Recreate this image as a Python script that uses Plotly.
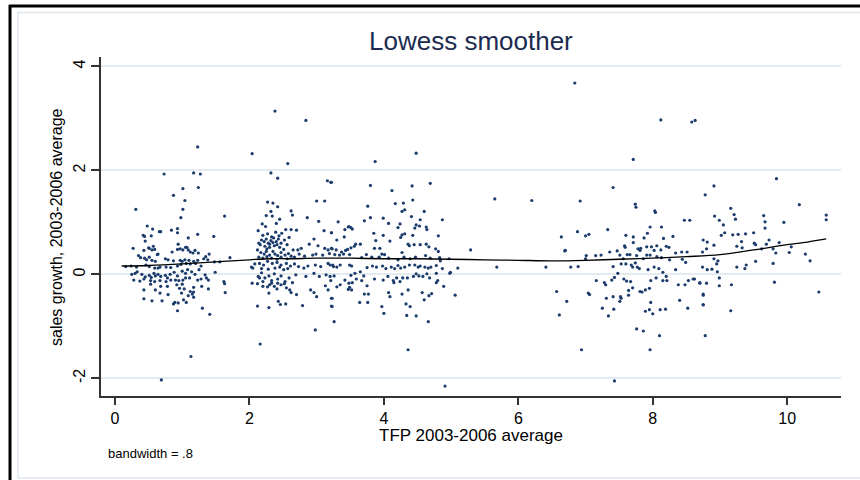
import plotly.graph_objects as go

# ---- data: (TFP 2003-2006 average, sales growth 2003-2006 average) ----
cluster_a = [
    (0.73,1.93),(1.17,1.95),(1.27,1.93),(1.23,2.45),(1.24,1.67),(1.01,1.65),(0.87,1.52),(1.04,1.42),(1.01,1.25),(0.31,1.25),(0.98,1.09),(1.63,1.12),
    (0.48,0.93),(0.56,0.87),(0.66,0.82),(0.68,0.82),(0.84,0.85),(0.93,0.88),(0.93,0.80),(0.42,0.75),(0.44,0.73),(0.54,0.74),(1.09,0.70),(1.23,0.77),(1.47,0.73),(0.45,0.64),(0.94,0.58),
    (0.51,0.50),(0.57,0.54),(0.55,0.47),(0.27,0.50),(0.93,0.48),(0.97,0.49),(1.05,0.52),(1.07,0.52),(1.19,0.46),(0.43,0.46),(0.50,0.51),(0.59,0.48),(0.63,0.38),(0.85,0.43),(1.01,0.47),(1.09,0.47),(1.12,0.43),(1.16,0.41),(1.24,0.41),(1.35,0.34),(1.40,0.39),
    (0.35,0.36),(0.38,0.32),(0.44,0.31),(0.47,0.28),(0.51,0.33),(0.55,0.27),(0.60,0.25),(0.64,0.39),(0.75,0.30),(0.79,0.28),(0.87,0.26),(0.97,0.27),(1.00,0.25),(1.04,0.28),(1.10,0.27),(1.17,0.25),(1.23,0.27),(1.32,0.30),(1.38,0.28),(1.48,0.24),(1.56,0.24),(1.71,0.32),
    (0.16,0.15),(0.24,0.16),(0.32,0.14),(0.46,0.18),(0.51,0.15),(0.59,0.12),(0.64,0.12),(0.67,0.14),(0.76,0.14),(0.83,0.13),(0.93,0.16),(0.98,0.19),(1.06,0.21),(1.12,0.20),(1.20,0.21),(1.28,0.16),
    (0.25,0.00),(0.30,0.02),(0.33,0.05),(0.40,0.00),(0.45,-0.05),(0.51,-0.02),(0.54,-0.06),(0.58,0.02),(0.60,-0.03),(0.64,0.00),(0.68,-0.04),(0.75,-0.02),(0.78,-0.07),(0.82,0.00),(0.88,0.04),(0.93,-0.03),(1.00,0.06),(1.05,0.02),(1.08,0.09),(1.14,0.05),(1.19,0.00),(1.25,0.09),(1.34,-0.01),(1.39,-0.11),(1.49,0.04),
    (0.28,-0.11),(0.37,-0.13),(0.43,-0.09),(0.53,-0.12),(0.59,-0.14),(0.67,-0.12),(0.76,-0.14),(0.83,-0.11),(0.90,-0.11),(0.95,-0.12),(1.01,-0.11),(1.05,-0.07),(1.11,-0.07),(1.23,-0.11),(1.28,-0.09),(1.36,-0.07),(1.62,-0.14),(1.63,-0.18),
    (0.43,-0.30),(0.53,-0.19),(0.60,-0.30),(0.68,-0.23),(0.78,-0.23),(0.92,-0.20),(0.96,-0.27),(1.00,-0.19),(1.03,-0.28),(1.12,-0.33),(1.17,-0.34),(1.09,-0.41),(1.17,-0.25),(1.29,-0.23),(1.39,-0.28),
    (0.67,-0.36),(0.79,-0.39),(0.99,-0.36),(1.15,-0.38),(1.17,-0.44),(1.02,-0.49),(1.06,-0.54),(0.43,-0.47),(0.55,-0.51),(0.70,-0.51),(0.89,-0.54),(0.87,-0.57),(0.94,-0.55),(1.64,-0.35),
    (0.93,-0.70),(1.30,-0.65),(1.41,-0.77),(0.69,-2.03),(1.13,-1.58),
]

cluster_b = [
    (2.04,2.32),(2.38,3.14),(2.84,2.96),(2.57,2.13),(2.32,1.95),(2.42,1.85),(3.16,1.80),(3.21,1.77),(2.27,1.39),(2.35,1.37),(2.42,1.30),(3.00,1.41),(3.12,1.41),
    (2.62,1.22),(2.64,1.14),(2.32,1.21),(2.25,1.13),(2.34,1.12),(2.45,1.06),(2.86,1.09),(3.03,1.02),(2.19,0.97),(2.24,0.92),(2.40,0.98),(2.13,0.84),(2.54,0.86),(2.62,0.86),(2.70,0.85),(2.39,0.81),(3.11,0.84),(3.22,0.80),
    (2.18,0.66),(2.22,0.63),(2.25,0.68),(2.28,0.60),(2.32,0.65),(2.36,0.70),(2.40,0.63),(2.43,0.68),(2.47,0.60),(2.52,0.66),(2.56,0.57),(2.59,0.71),(2.16,0.57),(2.23,0.54),(2.30,0.52),(2.37,0.55),(2.45,0.52),(2.51,0.48),
    (2.12,0.47),(2.65,0.47),(2.72,0.47),(2.77,0.50),(2.89,0.58),(2.96,0.68),(3.02,0.55),(3.12,0.50),(3.17,0.47),(3.22,0.50),
    (2.20,0.75),(2.27,0.78),(2.33,0.72),(2.44,0.74),(2.48,0.79),(2.30,0.58),(2.35,0.61),(2.41,0.57),(2.26,0.49),(2.14,0.60),
    (2.17,0.42),(2.22,0.39),(2.25,0.44),(2.30,0.37),(2.35,0.44),(2.38,0.39),(2.42,0.36),(2.47,0.42),(2.53,0.37),(2.58,0.40),(2.14,0.33),(2.20,0.31),(2.26,0.34),(2.33,0.31),(2.41,0.29),(2.47,0.33),(2.56,0.30),
    (2.62,0.35),(2.67,0.33),(2.74,0.39),(2.82,0.35),(2.94,0.37),(2.99,0.39),(3.09,0.37),(3.19,0.40),
    (2.03,0.14),(2.08,0.20),(2.15,0.21),(2.21,0.18),(2.27,0.25),(2.34,0.21),(2.41,0.23),(2.47,0.18),(2.55,0.21),(2.61,0.16),(2.67,0.20),(2.73,0.15),(2.81,0.12),(2.87,0.16),(2.98,0.18),(3.06,0.15),(3.17,0.21),(3.24,0.18),
    (2.18,0.11),(2.28,0.10),(2.38,0.12),(2.45,0.14),(2.51,0.09),(2.57,0.11),
    (2.05,0.12),(2.13,-0.04),(2.18,0.03),(2.23,-0.07),(2.29,-0.03),(2.33,-0.12),(2.37,0.01),(2.42,-0.09),(2.47,-0.03),(2.53,-0.14),(2.59,-0.07),(2.64,-0.16),(2.69,-0.01),(2.84,-0.04),(2.96,0.02),(3.04,-0.04),(3.14,-0.01),
    (2.20,-0.14),(2.33,-0.17),(2.42,-0.17),(2.52,-0.18),
    (2.04,-0.17),(2.12,-0.18),(2.15,-0.07),(2.20,-0.23),(2.27,-0.24),(2.30,-0.20),(2.37,-0.23),(2.41,-0.28),(2.47,-0.20),(2.55,-0.26),(2.60,-0.30),(2.62,-0.35),(2.70,-0.39),(2.91,-0.30),(2.96,-0.35),(3.00,-0.43),
    (3.13,-0.22),(3.17,-0.30),(3.23,-0.46),(2.29,-0.36),
    (2.12,-0.61),(2.29,-0.64),(2.43,-0.52),(2.46,-0.58),(2.54,-0.57),(2.79,-0.60),(3.22,-0.61),(2.16,-1.34),(2.98,-1.07),(3.26,-0.91),
]

cluster_c = [
    (4.48,2.33),(3.87,2.17),(3.22,1.77),(3.80,1.71),(4.42,1.70),(4.69,1.75),(4.12,1.61),(3.76,1.31),(4.17,1.36),(4.29,1.37),(4.43,1.43),(3.71,1.03),(3.80,1.09),(3.99,1.08),(4.07,0.98),(4.24,0.97),
    (4.27,1.21),(4.31,1.24),(4.41,1.11),(4.60,1.21),(4.54,1.05),(4.87,1.05),(3.32,1.01),(3.48,0.92),
    (3.42,0.86),(3.47,0.91),(3.51,0.90),(3.53,0.87),(3.22,0.80),(3.41,0.72),(3.30,0.66),
    (3.65,0.58),(3.85,0.79),(3.99,0.75),(3.88,0.65),(4.09,0.64),(4.21,0.90),(4.27,0.76),(4.31,0.78),(4.25,0.71),(4.43,0.75),(4.46,0.89),(4.63,0.91),(4.64,0.86),(4.48,0.95),(4.53,0.93),(4.81,0.74),
    (4.36,0.58),(4.38,0.55),(4.45,0.57),(4.54,0.57),(4.63,0.58),(4.67,0.53),(4.77,0.49),(4.81,0.44),(3.86,0.50),(3.94,0.50),(3.97,0.39),(3.58,0.58),(3.56,0.54),(3.51,0.51),(3.46,0.48),(3.43,0.46),
    (3.37,0.43),(3.29,0.47),(3.23,0.49),(3.27,0.38),(3.34,0.37),(3.40,0.39),(3.49,0.38),(3.67,0.32),(3.74,0.38),(3.82,0.33),(3.93,0.33),(4.01,0.38),(4.07,0.31),(4.21,0.28),(4.27,0.42),(4.30,0.33),
    (4.39,0.30),(4.47,0.33),(4.62,0.36),(4.69,0.31),(4.83,0.32),(4.97,0.30),
    (3.20,0.18),(3.25,0.15),(3.30,0.14),(3.35,0.18),(3.49,0.18),(3.52,0.16),(3.65,0.05),(3.75,0.13),(3.83,0.16),(3.89,0.14),(3.98,0.16),(4.03,0.11),(4.11,0.14),(4.16,0.11),(4.21,0.17),(4.25,0.12),
    (4.31,0.14),(4.38,0.18),(4.46,0.18),(4.51,0.14),(4.54,0.16),(4.61,0.14),(4.66,0.12),(4.70,0.14),(4.78,0.17),(4.87,0.11),(4.99,0.04),(5.10,0.12),(4.84,0.26),
    (3.20,-0.04),(3.21,-0.12),(3.26,-0.03),(3.30,-0.24),(3.35,-0.20),(3.42,-0.11),(3.51,-0.02),(3.53,-0.16),(3.57,0.02),(3.59,-0.09),(3.67,-0.12),(3.70,-0.03),(3.75,-0.22),(3.86,-0.09),(3.99,-0.11),
    (4.06,-0.04),(4.14,-0.12),(4.19,-0.07),(4.24,-0.14),(4.28,-0.07),(4.35,-0.07),(4.44,-0.04),(4.48,0.01),(4.52,-0.03),(4.58,-0.04),(4.64,0.01),(4.68,-0.07),(4.78,0.02),(4.89,-0.23),(4.98,0.02),(4.80,-0.12),
    (3.22,-0.46),(3.23,-0.62),(3.48,-0.17),(3.49,-0.25),(3.47,-0.29),(3.52,-0.30),(3.71,-0.38),(3.77,-0.38),(3.64,-0.54),(3.76,-0.54),(3.97,-0.62),(4.00,-0.75),(4.07,-0.35),(4.09,-0.43),(4.15,-0.16),
    (4.27,-0.38),(4.33,-0.57),(4.39,-0.62),(4.34,-0.79),(4.48,-0.80),(4.36,-0.30),(4.57,-0.35),(4.60,-0.49),(4.67,-0.41),(4.71,-0.37),(4.78,-0.16),(5.06,-0.40),(4.66,-0.91),
    (4.36,-1.45),(4.91,-2.15),
]

cluster_mid = [
    (5.29,0.47),(5.68,0.14),(5.65,1.45),(6.20,1.42),(6.41,0.14),(6.64,0.72),(6.88,0.82),(6.69,0.45),(6.78,0.14),(6.89,0.15),
    (6.84,3.68),(6.57,-0.33),(6.72,-0.52),(6.61,-0.78),(6.94,-1.45),(6.92,1.41),
]

cluster_d = [
    (7.71,2.21),(7.41,1.67),(7.74,1.35),(7.75,1.29),(8.03,1.22),(8.04,1.19),(8.47,1.04),(8.55,1.04),(7.00,0.74),(7.05,0.77),(7.33,0.86),
    (7.96,0.91),(8.13,0.91),(7.92,0.79),(7.87,0.70),(7.71,0.72),(7.60,0.75),(7.71,0.61),(7.59,0.52),(7.58,0.55),(7.78,0.49),(7.81,0.46),(7.82,0.50),(7.91,0.53),(7.98,0.53),(8.06,0.55),(8.02,0.46),
    (8.12,0.47),(8.16,0.69),(8.20,0.54),(8.24,0.52),(8.30,0.73),(6.70,0.46),
    (7.00,0.30),(7.01,0.36),(7.15,0.36),(7.23,0.37),(7.36,0.43),(7.47,0.45),(7.51,0.37),(7.56,0.30),(7.62,0.38),(7.66,0.38),(7.76,0.36),(7.86,0.30),(7.91,0.37),(7.96,0.37),(8.06,0.34),(8.13,0.32),
    (8.34,0.41),(8.43,0.43),(8.51,0.43),
    (7.41,0.15),(7.53,0.20),(7.60,0.20),(7.68,0.18),(7.70,0.14),(7.74,0.22),(7.77,0.14),(7.80,0.11),(7.93,0.09),(8.02,0.14),(8.09,0.11),(8.15,0.04),(8.20,-0.04),(8.25,0.28),(8.34,0.09),(8.44,0.29),(8.49,0.23),
    (7.16,-0.12),(7.28,-0.16),(7.30,-0.20),(7.39,-0.11),(7.43,-0.06),(7.48,0.02),(7.57,-0.09),(7.61,-0.13),(7.67,-0.14),(7.70,-0.26),(7.64,-0.31),(7.81,-0.33),(7.84,-0.34),(7.89,-0.30),(7.95,-0.27),
    (7.97,-0.12),(8.05,-0.07),(8.15,-0.12),(8.21,-0.12),(8.38,-0.20),(8.48,-0.20),(8.53,-0.12),(8.60,-0.09),(8.62,-0.09),(8.70,-0.17),
    (7.04,-0.36),(7.06,-0.39),(7.31,-0.46),(7.41,-0.43),(7.52,-0.43),(7.53,-0.46),(7.51,-0.52),(7.64,-0.40),(7.97,-0.54),(7.25,-0.65),(7.42,-0.67),(7.34,-0.80),(7.89,-0.71),(7.95,-0.68),(8.00,-0.76),
    (8.11,-0.68),(8.19,-0.67),(8.40,-0.50),(8.52,-0.65),
    (7.43,-2.05),(7.76,-1.05),(7.86,-1.09),(7.96,-1.45),(8.10,-1.18),(8.75,-0.58),(8.78,-1.18),(8.75,-0.38),(8.12,2.97),(8.58,2.93),(8.63,2.96),
]

cluster_e = [
    (9.84,1.84),(8.91,1.70),(8.78,1.53),(10.18,1.34),(10.58,1.14),(10.58,1.05),(9.16,1.27),(9.21,1.15),(9.23,1.06),(8.92,1.12),(8.99,1.04),(9.05,0.95),(9.65,1.13),(9.67,1.01),(9.67,0.89),(9.95,1.00),
    (9.07,0.80),(9.02,0.75),(9.19,0.76),(9.27,0.77),(9.38,0.78),(9.50,0.80),
    (8.75,0.66),(8.81,0.62),(8.91,0.56),(9.25,0.54),(9.32,0.63),(9.33,0.51),(9.51,0.60),(9.53,0.57),(9.62,0.49),(9.69,0.58),(9.73,0.66),(9.79,0.49),(9.88,0.61),(10.06,0.53),(10.03,0.42),(10.27,0.39),
    (9.83,0.41),(10.34,0.26),(9.53,0.25),(9.79,0.21),(9.39,0.18),(9.37,0.11),(9.25,0.14),
    (8.80,0.49),(8.74,0.43),(8.91,0.30),(8.97,0.26),(8.95,0.20),(8.74,0.14),(8.81,0.09),(8.88,0.10),(8.96,0.05),(8.99,-0.07),(8.99,-0.22),(8.70,-0.16),(8.80,-0.17),(9.17,-0.20),(8.75,-0.40),
    (8.75,-0.59),(9.16,-0.70),(9.81,-0.15),(10.47,-0.34),
]

# lowess smoother (bandwidth .8)
lowess_tfp = [0.10, 0.5, 1.0, 1.5, 2.0, 2.3, 2.6, 3.0, 3.5, 4.0, 4.5, 5.0, 5.5, 6.0, 6.5, 7.0, 7.5, 8.0, 8.5, 9.0, 9.5, 10.0, 10.3, 10.58]
lowess_growth = [0.16, 0.17, 0.20, 0.24, 0.28, 0.30, 0.30, 0.31, 0.31, 0.30, 0.30, 0.29, 0.28, 0.27, 0.26, 0.27, 0.29, 0.31, 0.34, 0.38, 0.47, 0.57, 0.62, 0.68]

x_ticks = [0, 2, 4, 6, 8, 10]
y_ticks = [-2, 0, 2, 4]

points = cluster_a + cluster_b + cluster_c + cluster_mid + cluster_d + cluster_e
tfp = [p[0] for p in points]
growth = [p[1] for p in points]

FONT = "Liberation Sans, Arial, Helvetica, sans-serif"
NAVY = "#1a3b6b"

fig = go.Figure()
fig.add_trace(go.Scatter(x=tfp, y=growth, mode="markers",
                         marker=dict(size=3.2, color=NAVY, line=dict(width=0)),
                         showlegend=False, hoverinfo="x+y"))
fig.add_trace(go.Scatter(x=lowess_tfp, y=lowess_growth, mode="lines",
                         line=dict(color="black", width=1.3, shape="spline"),
                         showlegend=False))

# plot area in pixels: left 101, right 841, top 57, bottom 396
L, R, T, B = 101, 841, 57, 396
W, H = R - L, B - T
def px(xp):
    return (xp - L) / W
def py(yp):
    return (B - yp) / H

fig.update_layout(
    width=860, height=480, autosize=False,
    margin=dict(l=L, r=860 - R, t=T, b=480 - B, pad=0),
    paper_bgcolor="white", plot_bgcolor="white",
    font=dict(family=FONT, color="black"),
    xaxis=dict(range=[-0.208, 10.80], tickvals=x_ticks, ticktext=[str(v) for v in x_ticks],
               ticks="outside", ticklen=7, tickwidth=1.5, tickcolor="#333333",
               showline=True, linecolor="#333333", linewidth=1.8,
               showgrid=False, zeroline=False, tickfont=dict(size=16, family=FONT)),
    yaxis=dict(range=[-2.34, 4.18], tickvals=y_ticks, ticktext=[str(v) for v in y_ticks],
               tickangle=-90,
               ticks="outside", ticklen=8, tickwidth=1.5, tickcolor="#333333",
               showline=True, linecolor="#333333", linewidth=1.8,
               showgrid=True, gridcolor="#e3eaf0", gridwidth=1.5,
               zeroline=False, tickfont=dict(size=16, family=FONT)),
    shapes=[
        dict(type="line", xref="paper", yref="paper", x0=px(10), x1=px(10), y0=py(5), y1=py(482),
             line=dict(color="black", width=3)),
        dict(type="line", xref="paper", yref="paper", x0=px(9), x1=px(862), y0=py(6), y1=py(6),
             line=dict(color="black", width=3)),
        dict(type="rect", xref="paper", yref="paper", x0=px(18), x1=px(870), y0=py(12.5), y1=py(478),
             line=dict(color="#dfe7ee", width=1.5), fillcolor="rgba(0,0,0,0)", layer="below"),
    ],
    annotations=[
        dict(text="Lowess smoother", xref="paper", yref="paper", x=px(471), y=py(41),
             xanchor="center", yanchor="middle", showarrow=False,
             font=dict(size=26, color="#1c2b50", family=FONT)),
        dict(text="sales growth, 2003-2006 average", xref="paper", yref="paper", x=px(56), y=py(227),
             xanchor="center", yanchor="middle", showarrow=False, textangle=-90,
             font=dict(size=16, color="black", family=FONT)),
        dict(text="TFP 2003-2006 average", xref="paper", yref="paper", x=px(471), y=py(436),
             xanchor="center", yanchor="middle", showarrow=False,
             font=dict(size=17, color="black", family=FONT)),
        dict(text="bandwidth = .8", xref="paper", yref="paper", x=px(106), y=py(453),
             xanchor="left", yanchor="middle", showarrow=False,
             font=dict(size=13, color="black", family=FONT)),
    ],
)

fig.write_html("out.html")
